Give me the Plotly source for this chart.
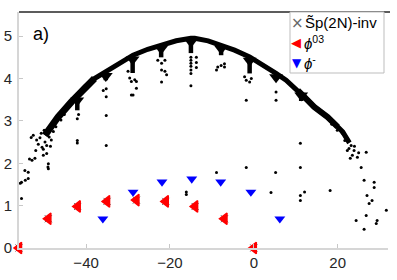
import plotly.graph_objects as go

# ---------------- data ----------------
# dense band of the Sp(2N)-inv spectrum (centre line of the band)
curve_x = [-49.8, -46.7, -43.5, -40.3, -38.0, -35.2, -32.4, -28.8, -25.3, -22.1, -18.5,
           -15.0, -14.1, -10.9, -7.8, -4.6, -1.0, 2.1, 5.3, 7.7, 10.5, 12.8, 14.4,
           17.6, 20.0, 21.2, 22.8]
curve_y = [2.66, 3.09, 3.45, 3.80, 4.00, 4.16, 4.35, 4.55, 4.69, 4.79, 4.89,
           4.95, 4.95, 4.89, 4.79, 4.67, 4.51, 4.33, 4.12, 3.96, 3.72, 3.49, 3.33,
           3.09, 2.86, 2.74, 2.48]

# "drips" hanging below the band
drip_x = [-42.1, -35.3, -28.9, -22.1, -15.0, -7.8, -1.0, 5.3, 11.3]
drip_top = [3.48, 4.06, 4.45, 4.70, 4.86, 4.70, 4.42, 4.03, 3.60]
drip_bottom = [3.25, 3.96, 4.13, 4.50, 4.60, 4.55, 4.12, 3.98, 3.47]

# isolated Sp(2N)-inv points
dots_x = [
    # left tail
    -55.7, -55.4, -55.4, -54.6, -54.5, -53.8, -53.8, -53.5, -53.1, -52.9, -52.6, -52.2,
    -51.4, -51.0, -50.7, -50.5, -50.2, -50.2, -49.8, -49.4, -49.4, -49.1, -49.0, -49.0,
    -48.8, -48.5, -48.3, -47.8, -47.2, -46.0, -45.2, -51.8, -50.0, -52.0,
    # below drips
    -42.1, -42.1, -42.1, -41.8, -35.2, -35.2, -35.2, -35.2, -35.9,
    -29.6, -29.2, -28.4, -28.0, -28.0, -29.2, -30.0, -28.8,
    -22.9, -22.0, -21.2, -21.2, -20.8, -22.0, -22.0,
    -15.0, -15.0, -15.0, -15.0, -15.0, -15.0, -15.0, -13.7, -13.7, -13.7,
    -8.9, -7.8, -7.0, -7.0, -8.6,
    -2.2, -1.8, -1.0, -0.6, -1.8, 5.3, 5.3,
    # isolated in the middle
    -16.1, -16.1, -8.9, -1.8, 5.2, 11.1, 11.1, 4.1, 11.1, 11.1, 12.1, 18.2,
    # right tail
    18.6, 19.9, 21.1, 21.7, 22.3, 22.7, 23.2, 22.3, 23.5, 23.9, 23.0, 24.7, 26.8, 25.6,
    26.3, 28.7, 28.7, 27.0, 28.2, 27.5, 31.6, 26.8, 24.4, 29.4, 29.2, 26.3, 24.0, 25.0,
]
dots_y = [
    1.53, 1.17, 1.55, 1.83, 1.60, 1.79, 1.64, 2.10, 2.61, 2.07, 2.66, 2.12,
    2.45, 2.60, 2.71, 2.38, 2.19, 2.33, 2.50, 2.23, 2.42, 1.91, 1.99, 1.87,
    2.62, 2.40, 2.55, 2.75, 2.86, 3.02, 3.15, 2.55, 2.78, 2.30,
    3.05, 2.54, 2.48, 3.15, 3.76, 3.57, 3.13, 2.42, 3.72,
    4.01, 3.93, 3.97, 3.93, 3.77, 3.61, 4.17, 3.61,
    4.43, 4.36, 4.43, 4.17, 4.09, 3.92, 4.20,
    4.50, 4.43, 4.36, 4.29, 4.20, 4.12, 3.83, 4.50, 4.38, 4.26,
    4.20, 4.31, 4.27, 4.35, 4.27,
    4.04, 3.96, 3.92, 4.00, 3.49, 3.68, 3.49,
    1.32, 1.26, 1.78, 1.90, 1.78, 2.47, 1.90, 1.31, 1.24, 1.12, 1.32, 1.36,
    2.92, 2.78, 2.71, 2.54, 2.59, 2.35, 2.42, 2.30, 2.19, 2.30, 2.12, 2.14, 2.26, 1.90,
    1.60, 1.55, 1.43, 1.24, 1.12, 1.05, 0.89, 0.77, 0.65, 0.65, 0.58, 0.44, 2.40, 2.25,
]

# phi^03 modes (red) and phi^- modes (blue)
red_x = [-56, -49, -42, -35, -28, -21, -14, -7, 0]
red_y = [0.0, 0.69, 0.98, 1.10, 1.13, 1.10, 0.98, 0.69, 0.0]
blue_x = [-36, -28.8, -21.9, -14.8, -7.9, -0.7, 6.2]
blue_y = [0.69, 1.32, 1.56, 1.63, 1.56, 1.32, 0.69]

x_ticks = [-40, -20, 0, 20]
y_ticks = [0, 1, 2, 3, 4, 5]

legend_labels = ["S\u0303p(2N)-inv", "<i>\u03d5</i><sup>03</sup>", "<i>\u03d5</i><sup>-</sup>"]

FONT = "Liberation Sans, Arial, sans-serif"

fig = go.Figure()

# band
fig.add_trace(go.Scatter(x=curve_x, y=curve_y, mode="lines",
                         line=dict(color="black", width=5), showlegend=False, hoverinfo="skip"))
# thicker fuzzy parts at both ends of the band
left_x = [v for v in curve_x if v <= -36]
left_y = [curve_y[i] for i, v in enumerate(curve_x) if v <= -36]
fig.add_trace(go.Scatter(x=left_x, y=left_y, mode="lines",
                         line=dict(color="black", width=7), showlegend=False, hoverinfo="skip"))
right_x = [v for v in curve_x if 10 <= v <= 21]
right_y = [curve_y[i] for i, v in enumerate(curve_x) if 10 <= v <= 21]
fig.add_trace(go.Scatter(x=right_x, y=right_y, mode="lines",
                         line=dict(color="black", width=6), showlegend=False, hoverinfo="skip"))

# drips: stems + triangular heads
stem_x, stem_y = [], []
for xx, t, b in zip(drip_x, drip_top, drip_bottom):
    stem_x += [xx, xx, None]
    stem_y += [t, b, None]
fig.add_trace(go.Scatter(x=stem_x, y=stem_y, mode="lines",
                         line=dict(color="black", width=4.5), showlegend=False, hoverinfo="skip"))
fig.add_trace(go.Scatter(x=drip_x, y=drip_top, mode="markers",
                         marker=dict(symbol="triangle-down", size=12, color="black"),
                         showlegend=False, hoverinfo="skip"))

# isolated dots
fig.add_trace(go.Scatter(x=dots_x, y=dots_y, mode="markers",
                         marker=dict(symbol="circle", size=3, color="black"),
                         showlegend=False, cliponaxis=False))

# small crosses of Sp(2N)-inv coinciding with phi^03
fig.add_trace(go.Scatter(x=red_x, y=red_y, mode="markers",
                         marker=dict(symbol="x-thin", size=7, line=dict(color="#555555", width=1)),
                         showlegend=False, cliponaxis=False))

fig.add_trace(go.Scatter(x=red_x, y=red_y, mode="markers",
                         marker=dict(symbol="triangle-left", size=10, color="#ff0000",
                                     line=dict(color="#ff0000", width=1.5)),
                         showlegend=False, cliponaxis=False))
fig.add_trace(go.Scatter(x=blue_x, y=blue_y, mode="markers",
                         marker=dict(symbol="triangle-down", size=9.5, color="#0000ff"),
                         showlegend=False, cliponaxis=False))

# plot area: left 19, right 388, top 12, bottom 248
L, R, T, B = 19, 9, 12, 32
PW, PH = 397 - L - R, 280 - T - B

def px(xp):
    return (xp - L) / PW

def py(yp):
    return (280 - B - yp) / PH

shapes = [
    dict(type="line", xref="paper", yref="paper", x0=0, x1=px(390), y0=1, y1=1,
         line=dict(color="#262626", width=1.3)),
    dict(type="rect", xref="paper", yref="paper", x0=px(290), x1=px(384), y0=py(73), y1=1,
         line=dict(color="#bdbdbd", width=1), fillcolor="white", layer="above"),
]

annotations = [
    dict(text="a)", xref="paper", yref="paper", x=px(31), y=py(34), xanchor="left",
         yanchor="middle", showarrow=False, font=dict(family=FONT, size=18, color="black")),
    # legend symbols
    dict(text="\u00d7", xref="paper", yref="paper", x=px(297), y=py(23), xanchor="center",
         yanchor="middle", showarrow=False, font=dict(family="DejaVu Sans ExtraLight, DejaVu Sans", size=15, color="#666666")),
    dict(text="\u25c0", xref="paper", yref="paper", x=px(296), y=py(42), xanchor="center",
         yanchor="middle", showarrow=False, font=dict(family="DejaVu Sans", size=13, color="#ff0000")),
    dict(text="\u25bc", xref="paper", yref="paper", x=px(296.5), y=py(63), xanchor="center",
         yanchor="middle", showarrow=False, font=dict(family="DejaVu Sans", size=12, color="#0000ff")),
    # legend texts
    dict(text=legend_labels[0], xref="paper", yref="paper", x=px(303), y=py(23), xanchor="left",
         yanchor="middle", showarrow=False, font=dict(family=FONT, size=15, color="black")),
    dict(text=legend_labels[1], xref="paper", yref="paper", x=px(302), y=py(42), xanchor="left",
         yanchor="middle", showarrow=False, font=dict(family=FONT, size=15, color="black")),
    dict(text=legend_labels[2], xref="paper", yref="paper", x=px(302), y=py(63), xanchor="left",
         yanchor="middle", showarrow=False, font=dict(family=FONT, size=15, color="black")),
]

fig.update_layout(
    width=397, height=280,
    margin=dict(l=L, r=R, t=T, b=B, pad=0, autoexpand=False),
    paper_bgcolor="white", plot_bgcolor="white",
    showlegend=False,
    font=dict(family=FONT, size=15, color="#262626"),
    shapes=shapes, annotations=annotations,
    xaxis=dict(range=[-56, 32], tickvals=x_ticks, ticks="inside", ticklen=4,
               tickcolor="#c8c8c8", showline=True, linecolor="#d6d6d6", linewidth=2,
               showgrid=False, zeroline=False, automargin=False,
               tickfont=dict(size=15, color="#262626")),
    yaxis=dict(range=[0, 5.57], tickvals=y_ticks, ticks="inside", ticklen=4,
               tickcolor="#c8c8c8", showline=True, linecolor="#d6d6d6", linewidth=2,
               showgrid=False, zeroline=False, automargin=False, ticklabelstandoff=2,
               tickfont=dict(size=15, color="#262626")),
)

fig.write_html("out.html",
               config={"displayModeBar": False},
               post_script="document.body.style.margin='0';document.body.style.overflow='hidden';")
